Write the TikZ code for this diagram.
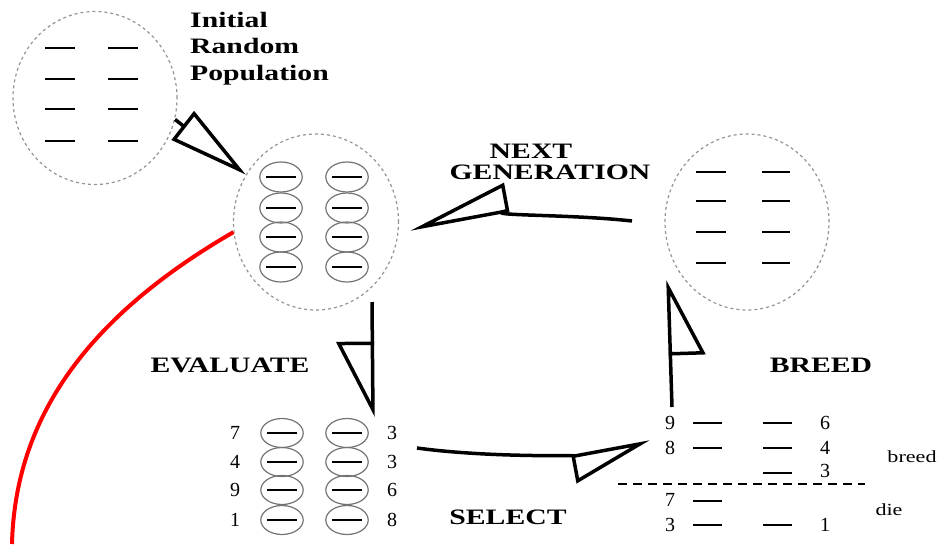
\documentclass[tikz,border=0pt]{standalone}
\usepackage{fontspec}
\setmainfont{Liberation Serif}
\newfontfamily\labfont[FakeStretch=1.35]{Liberation Serif Bold}
\newfontfamily\tagfont[FakeStretch=1.3]{Liberation Serif}
\usetikzlibrary{shapes.geometric, arrows.meta}

\begin{document}
\begin{tikzpicture}[x=1pt, y=-1pt,
  pool/.style={ellipse, draw=black!42, line width=1.2pt, dash pattern=on 3pt off 3pt, inner sep=0},
  cell/.style={ellipse, draw=black!55, line width=1.2pt, inner sep=0, minimum width=37pt, minimum height=30pt},
  bar/.style={line width=2.5pt, black},
  flow/.style={line width=3.5pt, black},
  num/.style={font=\fontsize{20}{24}\selectfont, inner sep=0},
  lab/.style={font=\labfont\fontsize{22}{26.5}\selectfont, inner sep=0},
  tag/.style={font=\tagfont\fontsize{17}{20}\selectfont, inner sep=0},
]
\useasboundingbox (0,0) rectangle (940,544);

% population pools
\node[pool, minimum width=164pt, minimum height=173pt] (init) at (95,98) {};
\node[pool, minimum width=165pt, minimum height=176pt] (pop) at (316,222) {};
\node[pool, minimum width=164pt, minimum height=176pt] (nextgen) at (747,222) {};

\node[lab, anchor=north west, align=left] (initlab) at (190,12) {Initial\\Random\\Population};

% individuals of the initial pool
\foreach \y in {48,79,109,141}{
  \draw[bar] (45,\y) -- (75,\y);
  \draw[bar] (108,\y) -- (138,\y);
}
% individuals of the next generation
\foreach \y in {172,201,232,263}{
  \draw[bar] (696,\y) -- (726,\y);
  \draw[bar] (762,\y) -- (790,\y);
}

% current population, each individual in its cell
\foreach \y [count=\r] in {177,208,237,267}{
  \node[cell] (pa\r) at (281,\y) {\rule{30pt}{2.2pt}};
  \node[cell] (pb\r) at (347,\y) {\rule{30pt}{2.2pt}};
}

% evaluated population with fitness values
\foreach \y/\na/\nb [count=\r] in {433/7/3, 462/4/3, 490/9/6, 520/1/8}{
  \node[num] (el\r) at (235,\y) {\na};
  \node[cell, minimum width=38pt, minimum height=29pt] (ea\r) at (282,\y) {\rule{30pt}{2.2pt}};
  \node[cell, minimum width=38pt, minimum height=29pt] (eb\r) at (347,\y) {\rule{30pt}{2.2pt}};
  \node[num] (er\r) at (392,\y) {\nb};
}

% selected individuals: breed above the line, die below
\node[num] (bl1) at (670,423) {9};
\node[num] (bl2) at (670,448) {8};
\node[num] (bl4) at (670,500) {7};
\node[num] (bl5) at (670,525) {3};
\node[num] (br1) at (825,423) {6};
\node[num] (br2) at (825,448) {4};
\node[num] (br3) at (825,471) {3};
\node[num] (br5) at (825,525) {1};
\foreach \y in {423,448,501,525}{ \draw[bar] (693,\y) -- (722,\y); }
\foreach \y in {423,448,473,525}{ \draw[bar] (763,\y) -- (792,\y); }
\draw[line width=1.8pt, dash pattern=on 9pt off 6pt] (618,484) -- (865,484);
\node[tag] (breedtag) at (912,457) {breed};
\node[tag] (dietag) at (889,510) {die};

% step labels
\node[lab] (evallab) at (230,365) {EVALUATE};
\node[lab] (breedlab) at (821,365) {BREED};
\node[lab] (selectlab) at (508,517) {SELECT};
\node[lab] (nextlab) at (531,151) {NEXT};
\node[lab] (genlab) at (550,172) {GENERATION};

% arrow ends
\coordinate (evs) at (372,302);
\coordinate (eve) at (373,417);
\coordinate (sls) at (417,448);
\coordinate (sle) at (650,442);
\coordinate (bds) at (672,407);
\coordinate (bde) at (668,280);
\coordinate (ngs) at (632,221);
\coordinate (nge) at (410,229);
\coordinate (redend) at (12,544);

% cycle arrows
\draw[flow, -{Triangle[open, length=80pt, width=36pt, line width=3.5pt]}] (init.-15) -- (pop.146);
\draw[flow, -{Triangle[open, right, length=72pt, width=72pt, line width=3.5pt]}] (evs) -- (eve);
\draw[flow, -{Triangle[open, right, length=75pt, width=54pt, line width=3.5pt]}] (sls) .. controls (490,458) and (580,455) .. (sle);
\draw[flow, -{Triangle[open, right, length=72pt, width=70pt, line width=3.5pt]}] (bds) -- (bde);
\draw[flow, -{Triangle[open, right, length=95pt, width=56pt, line width=3.5pt]}] (ngs) .. controls (570,214) and (480,216) .. (nge);

% highlight stroke
\draw[red, line width=4pt] (pop.187) .. controls (85,318) and (15,420) .. (redend);
\end{tikzpicture}
\end{document}
